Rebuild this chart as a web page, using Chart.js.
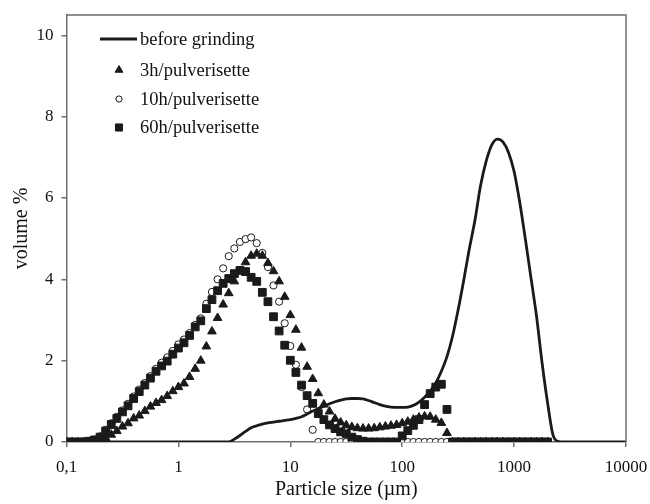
<!DOCTYPE html>
<html>
<head>
<meta charset="utf-8">
<script src="https://cdn.jsdelivr.net/npm/chart.js@4.4.1/dist/chart.umd.min.js"></script>
<style>
  body { margin: 0; background: #fff; }
  canvas { display: block; }
</style>
</head>
<body>
<canvas id="myChart" width="650" height="504"></canvas>
<script>
// particle size classes (µm), shared by the three ground samples
const sizes = [
  0.1, 0.1122, 0.1259, 0.1413, 0.1585, 0.1778, 0.1995, 0.2239, 0.2512, 0.2818,
  0.3162, 0.3548, 0.3981, 0.4467, 0.5012, 0.5623, 0.6310, 0.7079, 0.7943, 0.8913,
  1.000, 1.122, 1.259, 1.413, 1.585, 1.778, 1.995, 2.239, 2.512, 2.818,
  3.162, 3.548, 3.981, 4.467, 5.012, 5.623, 6.310, 7.079, 7.943, 8.913,
  10.00, 11.22, 12.59, 14.13, 15.85, 17.78, 19.95, 22.39, 25.12, 28.18,
  31.62, 35.48, 39.81, 44.67, 50.12, 56.23, 63.10, 70.79, 79.43, 89.13,
  100.0, 112.2, 125.9, 141.3, 158.5, 177.8, 199.5, 223.9, 251.2, 281.8,
  316.2, 354.8, 398.1, 446.7, 501.2, 562.3, 631.0, 707.9, 794.3, 891.3,
  1000, 1122, 1259, 1413, 1585, 1778, 1995
];

const pulv3h = [
  0, 0, 0, 0, 0, 0, 0.05, 0.10, 0.18, 0.27,
  0.38, 0.46, 0.58, 0.65, 0.76, 0.87, 0.96, 1.03, 1.13, 1.25,
  1.35, 1.44, 1.60, 1.80, 2.00, 2.35, 2.72, 3.05, 3.38, 3.66,
  3.95, 4.20, 4.42, 4.58, 4.63, 4.58, 4.40, 4.20, 3.95, 3.57,
  3.12, 2.76, 2.32, 1.85, 1.55, 1.20, 0.92, 0.75, 0.57, 0.48,
  0.41, 0.37, 0.34, 0.33, 0.33, 0.34, 0.36, 0.38, 0.40, 0.42,
  0.46, 0.50, 0.55, 0.60, 0.63, 0.62, 0.55, 0.47, 0.22, 0,
  0, 0, 0, 0, 0, 0, 0, 0, 0, 0,
  0, 0, 0, 0, 0, 0, 0
];

const pulv10h = [
  0, 0, 0, 0, 0.02, 0.06, 0.14, 0.30, 0.46, 0.62,
  0.78, 0.94, 1.12, 1.29, 1.45, 1.62, 1.80, 1.95, 2.08, 2.24,
  2.40, 2.52, 2.68, 2.88, 3.04, 3.40, 3.69, 4.00, 4.27, 4.57,
  4.76, 4.92, 4.99, 5.03, 4.89, 4.65, 4.30, 3.85, 3.45, 2.92,
  2.36, 1.90, 1.35, 0.80, 0.30, 0, 0, 0, 0, 0,
  0, 0, 0, 0, 0, 0, 0, 0, 0, 0,
  0, 0, 0, 0, 0, 0, 0, 0, 0, 0,
  0, 0, 0, 0, 0, 0, 0, 0, 0, 0,
  0, 0, 0, 0, 0, 0, 0
];

const pulv60h = [
  0, 0, 0, 0, 0.02, 0.05, 0.12, 0.27, 0.43, 0.58,
  0.74, 0.89, 1.07, 1.24, 1.40, 1.57, 1.74, 1.87, 1.99, 2.16,
  2.31, 2.44, 2.62, 2.83, 2.98, 3.28, 3.50, 3.72, 3.90, 4.02,
  4.14, 4.22, 4.19, 4.05, 3.95, 3.68, 3.45, 3.08, 2.73, 2.38,
  2.01, 1.71, 1.40, 1.14, 0.95, 0.70, 0.55, 0.42, 0.33, 0.25,
  0.20, 0.12, 0.06, 0.02, 0, 0, 0, 0, 0, 0,
  0.15, 0.28, 0.41, 0.55, 0.92, 1.19, 1.35, 1.42, 0.80, 0,
  0, 0, 0, 0, 0, 0, 0, 0, 0, 0,
  0, 0, 0, 0, 0, 0, 0
];

// unground material (continuous curve)
const lineSizes = [
  0.1, 2.818, 3.162, 3.548, 3.981, 4.467, 5.012, 5.623, 6.310, 7.079, 7.943, 8.913,
  10.00, 11.22, 12.59, 14.13, 15.85, 17.78, 19.95, 22.39, 25.12, 28.18,
  31.62, 35.48, 39.81, 44.67, 50.12, 56.23, 63.10, 70.79, 79.43, 89.13,
  100.0, 112.2, 125.9, 141.3, 158.5, 177.8, 199.5, 223.9, 251.2, 281.8,
  316.2, 354.8, 398.1, 446.7, 501.2, 562.3, 631.0, 707.9, 794.3, 891.3,
  1000, 1122, 1259, 1413, 1585, 1778, 1995, 2239, 2512, 2818, 10000
];
const lineValues = [
  0, 0, 0.07, 0.16, 0.26, 0.35, 0.40, 0.44, 0.47, 0.49, 0.51, 0.53,
  0.55, 0.58, 0.62, 0.69, 0.76, 0.82, 0.88, 0.94, 0.99, 1.03,
  1.06, 1.07, 1.07, 1.06, 1.02, 0.97, 0.92, 0.88, 0.86, 0.85,
  0.85, 0.86, 0.90, 0.98, 1.10, 1.25, 1.45, 1.74, 2.10, 2.60,
  3.25, 3.98, 4.75, 5.45, 6.30, 6.90, 7.30, 7.45, 7.38, 7.12,
  6.65, 5.90, 5.00, 4.05, 3.10, 1.95, 0.95, 0.15, 0.01, 0, 0
];

const xTicks = [0.1, 1, 10, 100, 1000, 10000];
const yTicks = [0, 2, 4, 6, 8, 10];

function pts(xs, ys) {
  return xs.map((x, i) => ({ x: x, y: ys[i] }));
}

const serif = "'Liberation Serif', 'Times New Roman', serif";
const ink = '#1a1a1a';

// box round the plot + legend inside the plot area
const frameAndLegend = {
  id: 'frameAndLegend',
  afterDraw(chart) {
    const ctx = chart.ctx;
    const a = chart.chartArea;
    ctx.save();
    ctx.strokeStyle = '#6e6e6e';
    ctx.lineWidth = 1.5;
    ctx.beginPath();
    ctx.moveTo(a.left, a.top);
    ctx.lineTo(a.right, a.top);
    ctx.lineTo(a.right, a.bottom);
    ctx.stroke();

    const rows = [39, 70, 99, 127.5];
    ctx.font = '18.5px ' + serif;
    ctx.textBaseline = 'middle';
    chart.data.datasets.forEach((ds, i) => {
      const y = rows[i];
      if (ds.showLine) {
        ctx.strokeStyle = ds.borderColor;
        ctx.lineWidth = ds.borderWidth;
        ctx.beginPath();
        ctx.moveTo(100, y);
        ctx.lineTo(137, y);
        ctx.stroke();
      } else {
        ctx.fillStyle = ds.pointBackgroundColor;
        ctx.strokeStyle = ds.pointBorderColor;
        ctx.lineWidth = ds.pointBorderWidth;
        Chart.helpers.drawPoint(ctx, {
          pointStyle: ds.pointStyle, radius: ds.pointRadius - 0.5, rotation: 0, borderWidth: ds.pointBorderWidth
        }, 119, y);
      }
      ctx.fillStyle = '#111';
      ctx.fillText(ds.label, 140, y + 1);
    });
    ctx.restore();
  }
};

new Chart(document.getElementById('myChart'), {
  type: 'scatter',
  data: {
    datasets: [{
      label: 'before grinding',
      data: pts(lineSizes, lineValues),
      showLine: true,
      borderColor: ink,
      borderWidth: 2.8,
      pointRadius: 0,
      cubicInterpolationMode: 'monotone',
      order: 0
    }, {
      label: '3h/pulverisette',
      data: pts(sizes, pulv3h),
      pointStyle: 'triangle',
      pointRadius: 5,
      pointBackgroundColor: ink,
      pointBorderColor: ink,
      pointBorderWidth: 1,
      order: 2
    }, {
      label: '10h/pulverisette',
      data: pts(sizes, pulv10h),
      pointStyle: 'circle',
      pointRadius: 3.6,
      pointBackgroundColor: '#fff',
      pointBorderColor: ink,
      pointBorderWidth: 1,
      order: 3
    }, {
      label: '60h/pulverisette',
      data: pts(sizes, pulv60h),
      pointStyle: 'rect',
      pointRadius: 5.5,
      pointBackgroundColor: ink,
      pointBorderColor: ink,
      pointBorderWidth: 1,
      order: 1
    }]
  },
  options: {
    responsive: false,
    animation: false,
    layout: { padding: { top: 15, right: 24, left: 0, bottom: 0 } },
    scales: {
      x: {
        type: 'logarithmic',
        min: 0.1,
        max: 10000,
        afterBuildTicks: (s) => { s.ticks = xTicks.map(v => ({ value: v })); },
        afterFit: (s) => { s.height = 62; s.paddingLeft = 0; s.paddingRight = 0; },
        grid: { drawOnChartArea: false, tickLength: 5, color: '#6e6e6e', lineWidth: 1.5 },
        border: { color: '#6e6e6e', width: 1.5 },
        ticks: {
          color: '#111',
          padding: 10,
          maxRotation: 0,
          autoSkip: false,
          font: { family: serif, size: 17 },
          callback: (v) => String(v).replace('.', ',')
        },
        title: {
          display: true,
          text: 'Particle size (µm)',
          color: '#111',
          font: { family: serif, size: 20 },
          padding: { top: 0, bottom: 2 }
        }
      },
      y: {
        min: 0,
        max: 10.5,
        afterBuildTicks: (s) => { s.ticks = yTicks.map(v => ({ value: v })); },
        afterFit: (s) => { s.width = 66.5; s.paddingTop = 0; s.paddingBottom = 0; },
        grid: { drawOnChartArea: false, tickLength: 5, color: '#6e6e6e', lineWidth: 1.5 },
        border: { color: '#6e6e6e', width: 1.5 },
        ticks: {
          color: '#111',
          padding: 8,
          font: { family: serif, size: 17 }
        },
        title: {
          display: true,
          text: 'volume %',
          color: '#111',
          font: { family: serif, size: 20 },
          padding: { top: 10, bottom: 0 }
        }
      }
    },
    plugins: {
      legend: { display: false },
      tooltip: { enabled: false }
    }
  },
  plugins: [frameAndLegend]
});
</script>
</body>
</html>
